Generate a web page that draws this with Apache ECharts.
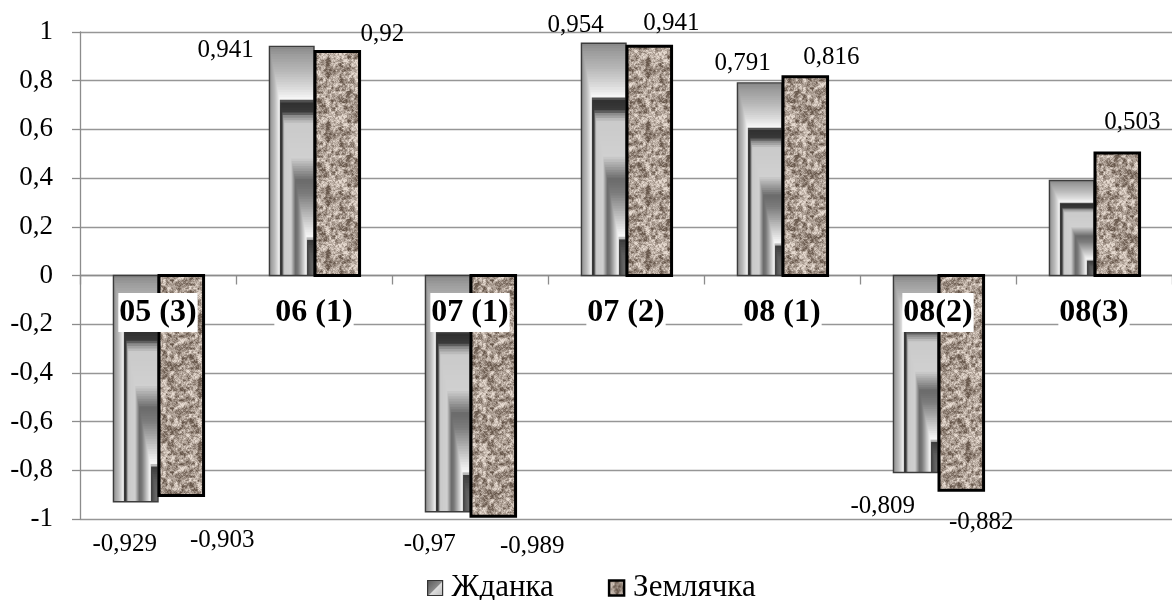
<!DOCTYPE html>
<html>
<head>
<meta charset="utf-8">
<script src="https://cdn.jsdelivr.net/npm/echarts@6/dist/echarts.min.js"></script>
<style>
  html, body { margin: 0; padding: 0; background: #fff; }
  #chart { width: 1172px; height: 600px; }
</style>
</head>
<body>
<div id="chart"></div>
<script>
// ---- data ----
const categories = ['05 (3)', '06 (1)', '07 (1)', '07 (2)', '08 (1)', '08(2)', '08(3)'];
const zhdanka    = [-0.929, 0.941, -0.97, 0.954, 0.791, -0.809, 0.39];
const zemlyachka = [-0.903, 0.92, -0.989, 0.941, 0.816, -0.882, 0.503];
const seriesNames = ['Жданка', 'Землячка'];
const yMin = -1, yMax = 1, yStep = 0.2;

// value label placement, pixels from the bar's end (null = no label)
const zhdankaLabelOffset    = [[-11, 43], [-66, 4], [-18, 33], [-28, -18], [-17, -19], [-33, 34], null];
const zemlyachkaLabelOffset = [[41, 45], [45, -17], [39, 30], [22, -23], [26, -19], [20, 32], [15, -31]];

const FONT = "'Liberation Serif', 'Times New Roman', serif";
const BAR_RATIO = 0.2857;   // bar width as share of the category band

const fmt = v => String(Math.round(v * 1000) / 1000).replace('.', ',');

// ---- granite fill (tileable value noise) ----
function makeGranite(size) {
  const c = document.createElement('canvas');
  c.width = c.height = size;
  const ctx = c.getContext('2d');
  const img = ctx.createImageData(size, size);
  function lattice(ix, iy, period, seed) {
    ix = ((ix % period) + period) % period;
    iy = ((iy % period) + period) % period;
    const s = Math.sin(ix * 127.1 + iy * 311.7 + seed * 74.7) * 43758.5453;
    return s - Math.floor(s);
  }
  function noise(x, y, cell, seed) {
    const period = size / cell;
    const gx = x / cell, gy = y / cell;
    const ix = Math.floor(gx), iy = Math.floor(gy);
    const fx = gx - ix, fy = gy - iy;
    const sx = fx * fx * (3 - 2 * fx), sy = fy * fy * (3 - 2 * fy);
    const a = lattice(ix, iy, period, seed), b = lattice(ix + 1, iy, period, seed);
    const d = lattice(ix, iy + 1, period, seed), e = lattice(ix + 1, iy + 1, period, seed);
    return a + (b - a) * sx + (d - a) * sy + (a - b - d + e) * sx * sy;
  }
  const dark = [102, 86, 74], light = [230, 218, 208];
  for (let y = 0; y < size; y++) {
    for (let x = 0; x < size; x++) {
      const v = 0.40 * noise(x, y, 4, 1) + 0.38 * noise(x, y, 2, 2) + 0.22 * lattice(x, y, size, 3);
      let t = (v - 0.5) * 2.0 + 0.52;
      t = Math.max(0, Math.min(1, t));
      const i = (y * size + x) * 4;
      img.data[i]     = dark[0] + (light[0] - dark[0]) * t;
      img.data[i + 1] = dark[1] + (light[1] - dark[1]) * t;
      img.data[i + 2] = dark[2] + (light[2] - dark[2]) * t;
      img.data[i + 3] = 255;
    }
  }
  ctx.putImageData(img, 0, 0);
  return c;
}
const granite = makeGranite(64);
const granitePattern = { image: granite, repeat: 'repeat' };

// ---- metallic corner gradient (t = 1 at outer left/top edge, 0 at bottom-right corner) ----
const chromeStops = [
  [1.00, 0x8a], [0.97, 0x9c], [0.90, 0xb6], [0.82, 0xdc], [0.775, 0xf8],
  [0.765, 0x2e], [0.72, 0x3a], [0.70, 0x8c], [0.67, 0xca], [0.52, 0xd0],
  [0.42, 0x6a], [0.36, 0x7c], [0.28, 0xb2], [0.20, 0xe8], [0.17, 0xfa],
  [0.16, 0x3c], [0.10, 0x5a], [0.00, 0x72]
];
function chromeAt(t) {
  for (let i = 0; i < chromeStops.length - 1; i++) {
    const [t0, c0] = chromeStops[i], [t1, c1] = chromeStops[i + 1];
    if (t <= t0 && t >= t1) {
      const k = (t0 - t) / (t0 - t1 || 1);
      const g = Math.round(c0 + (c1 - c0) * k);
      return 'rgb(' + g + ',' + g + ',' + g + ')';
    }
  }
  return '#777';
}

function barGeom(api, side) {
  const idx = api.value(0), val = api.value(1);
  const base = api.coord([idx, 0]);
  const end = api.coord([idx, val]);
  const band = api.size([1, 0])[0];
  const w = band * BAR_RATIO;
  const x = side < 0 ? base[0] - w : base[0] + 1;
  const y = Math.min(base[1], end[1]);
  const h = Math.abs(end[1] - base[1]);
  return { x, y, w, h, cx: x + w / 2, endY: end[1], val };
}

function labelEl(g, off) {
  if (!off) return null;
  return {
    type: 'text',
    z2: 20,
    style: {
      text: fmt(g.val), x: g.cx + off[0], y: g.endY + off[1],
      fill: '#000', fontSize: 25, fontFamily: FONT,
      align: 'center', verticalAlign: 'middle'
    }
  };
}

function renderZhdanka(params, api) {
  const g = barGeom(api, -1);
  const right = g.x + g.w, bottom = g.y + g.h;
  const children = [];
  const N = 90;
  for (let i = 0; i < N; i++) {
    const t = 1 - i / N;
    children.push({
      type: 'rect',
      shape: { x: right - t * g.w, y: bottom - t * g.h, width: t * g.w, height: t * g.h },
      style: { fill: chromeAt(t) }
    });
  }
  children.push({
    type: 'rect',
    shape: { x: g.x, y: g.y, width: g.w, height: g.h },
    style: { fill: null, stroke: '#3c3c3c', lineWidth: 1.4 }
  });
  const lbl = labelEl(g, zhdankaLabelOffset[params.dataIndex]);
  if (lbl) children.push(lbl);
  return { type: 'group', children };
}

function renderZemlyachka(params, api) {
  const g = barGeom(api, 1);
  const children = [{
    type: 'rect',
    shape: { x: g.x, y: g.y, width: g.w, height: g.h },
    style: { fill: granitePattern, stroke: '#000', lineWidth: 3 }
  }];
  const lbl = labelEl(g, zemlyachkaLabelOffset[params.dataIndex]);
  if (lbl) children.push(lbl);
  return { type: 'group', children };
}

// category names sit just under the zero line, on a white box over the bars
function renderCategory(params, api) {
  const p = api.coord([api.value(0), 0]);
  return {
    type: 'text',
    style: {
      text: categories[params.dataIndex], x: p[0], y: p[1] + 37,
      fill: '#000', fontSize: 32, fontWeight: 'bold', fontFamily: FONT,
      align: 'center', verticalAlign: 'middle',
      backgroundColor: '#fff', padding: [3, 1, 2, 1], lineHeight: 34
    }
  };
}

const chart = echarts.init(document.getElementById('chart'), null, { renderer: 'canvas' });
chart.setOption({
  animation: false,
  backgroundColor: '#fff',
  grid: { left: 80, right: -10, top: 32, bottom: 81, containLabel: false },
  legend: {
    top: 572,
    left: 427,
    padding: 0,
    itemWidth: 15,
    itemHeight: 15,
    itemGap: 54,
    textStyle: { fontFamily: FONT, fontSize: 31, lineHeight: 32, color: '#000', padding: [0, 0, 0, 4] },
    data: [
      {
        name: seriesNames[0], icon: 'rect',
        itemStyle: {
          color: { type: 'linear', x: 0, y: 0, x2: 1, y2: 1,
                   colorStops: [{ offset: 0, color: '#555' }, { offset: 0.5, color: '#888' }, { offset: 0.55, color: '#ddd' }, { offset: 1, color: '#bbb' }] },
          borderColor: '#333', borderWidth: 1.2
        }
      },
      {
        name: seriesNames[1], icon: 'rect',
        itemStyle: { color: granitePattern, borderColor: '#000', borderWidth: 2.5 }
      }
    ]
  },
  xAxis: {
    type: 'category',
    data: categories,
    axisLine: { onZero: true, lineStyle: { color: '#8c8c8c', width: 1.3 } },
    axisTick: { show: true, length: 9, lineStyle: { color: '#8c8c8c', width: 1.3 } },
    axisLabel: { show: false },
    splitLine: { show: false }
  },
  yAxis: {
    type: 'value',
    min: yMin, max: yMax, interval: yStep,
    axisLine: { show: true, lineStyle: { color: '#8c8c8c', width: 1.3 } },
    axisTick: { show: true, length: 8, lineStyle: { color: '#8c8c8c', width: 1.3 } },
    axisLabel: {
      margin: 27, fontFamily: FONT, fontSize: 27, color: '#000',
      formatter: v => fmt(Math.round(v * 10) / 10)
    },
    splitLine: { show: true, lineStyle: { color: '#969696', width: 1.3 } }
  },
  series: [
    {
      name: seriesNames[0], type: 'custom',
      itemStyle: { color: '#999' },
      encode: { x: 0, y: 1 },
      data: zhdanka.map((v, i) => [i, v]),
      renderItem: renderZhdanka,
      z: 2
    },
    {
      name: seriesNames[1], type: 'custom',
      itemStyle: { color: '#a89b8f' },
      encode: { x: 0, y: 1 },
      data: zemlyachka.map((v, i) => [i, v]),
      renderItem: renderZemlyachka,
      z: 3
    },
    {
      name: 'categoryNames', type: 'custom',
      silent: true,
      encode: { x: 0, y: 1 },
      data: categories.map((c, i) => [i, 0]),
      renderItem: renderCategory,
      z: 10
    }
  ]
});
</script>
</body>
</html>
